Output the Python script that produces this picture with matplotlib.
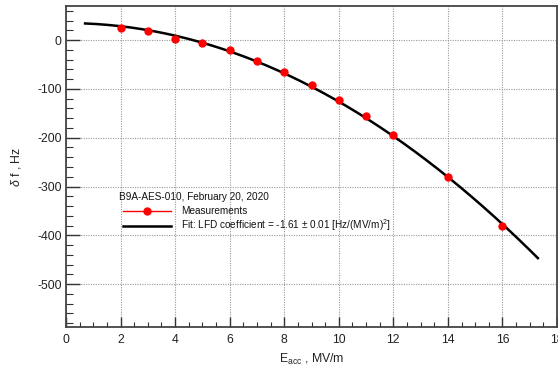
import numpy as np
import matplotlib
matplotlib.use("Agg")
import matplotlib.pyplot as plt
from matplotlib.ticker import MultipleLocator
from matplotlib.lines import Line2D

# Data
e_acc = [2, 3, 4, 5, 6, 7, 8, 9, 10, 11, 12, 14, 16]
delta_f = [25, 18, 3, -6, -21, -42, -66, -91, -123, -156, -195, -281, -381]
fit_offset = 35.0        # Hz
fit_lfd = -1.61          # Hz/(MV/m)^2
fit_range = (0.7, 17.3)  # MV/m

header = "B9A-AES-010, February 20, 2020"
label_meas = "Measurements"
label_fit = r"Fit: LFD coefficient = -1.61 $\pm$ 0.01 [Hz/(MV/m)$^2$]"

plt.rcParams['font.family'] = ['Liberation Sans', 'DejaVu Sans']
plt.rcParams['axes.unicode_minus'] = False
plt.rcParams['mathtext.fontset'] = 'custom'
plt.rcParams['mathtext.rm'] = 'Liberation Sans'
plt.rcParams['mathtext.it'] = 'Liberation Sans:italic'

fig = plt.figure(figsize=(5.58, 3.69), dpi=100)
ax = fig.add_axes([66/558, 1-327/369, (557-66)/558, (327-6)/369])

xf = np.linspace(fit_range[0], fit_range[1], 200)
yf = fit_offset + fit_lfd * xf**2
ax.plot(xf, yf, color='black', lw=1.8, zorder=3)
ax.plot(e_acc, delta_f, 'o', color='red', ms=5, zorder=4)

ax.set_xlim(0, 18)
ax.set_ylim(-588, 70)
ax.xaxis.set_major_locator(MultipleLocator(2))
ax.xaxis.set_minor_locator(MultipleLocator(0.5))
ax.yaxis.set_major_locator(MultipleLocator(100))
ax.yaxis.set_minor_locator(MultipleLocator(20))
ax.grid(True, which='major', color='#999999', ls=(0, (1, 1.2)), lw=0.8)

ax.tick_params(axis='x', which='major', direction='in', length=7, width=1, labelsize=8.8, pad=5, colors='#333333')
ax.tick_params(axis='x', which='minor', direction='in', length=3.5, width=0.8, colors='#333333')
ax.tick_params(axis='y', which='major', direction='in', length=10, width=1, labelsize=8.8, pad=3, colors='#333333')
ax.tick_params(axis='y', which='minor', direction='in', length=5, width=0.8, colors='#333333')
for lab in ax.get_xticklabels() + ax.get_yticklabels():
    lab.set_color('#222222')
for s in ax.spines.values():
    s.set_color('#444444')
    s.set_linewidth(1.3)

ax.set_xlabel(r"E$_{\rm acc}$ , MV/m", fontsize=8.8, labelpad=4, color='#222222')
ax.set_ylabel(r"$\delta$ f , Hz", fontsize=8.8, labelpad=10, color='#222222')

# legend header
ax.text((119-66)/491, (327-197)/321, header, transform=ax.transAxes,
        fontsize=7.2, ha='left', va='center', color='#111111')

handles = [Line2D([], [], color='red', marker='o', ms=5, lw=1),
           Line2D([], [], color='black', lw=1.8)]
leg = ax.legend(handles, [label_meas, label_fit],
                loc='upper left', bbox_to_anchor=((123-66)/491, (327-206)/321),
                bbox_transform=ax.transAxes, frameon=False, fontsize=7.2,
                handlelength=4.8, handletextpad=1.0,
                labelspacing=0.15, borderaxespad=0, borderpad=0)
for t in leg.get_texts():
    t.set_color('#111111')

fig.savefig("out.png", dpi=100)
